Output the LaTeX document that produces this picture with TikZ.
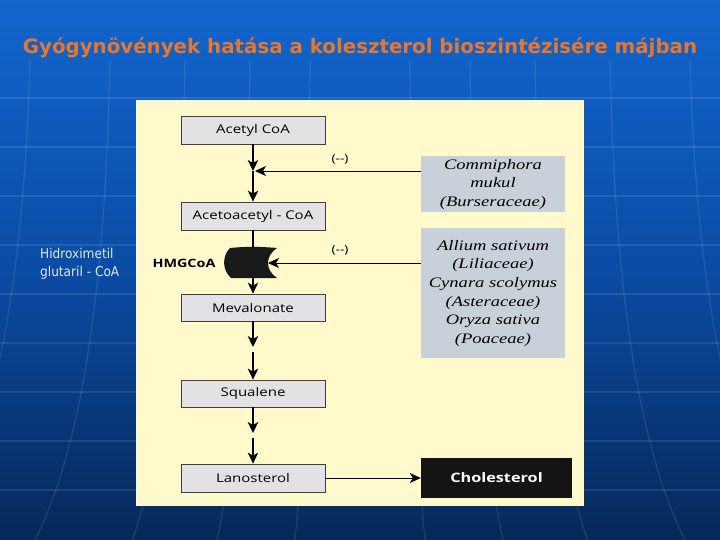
\documentclass[tikz,border=0pt]{standalone}
\usepackage{fontspec}
\usetikzlibrary{arrows.meta,calc}
\newfontfamily\boxfont{Open Sans}
\newfontfamily\plantfont{Liberation Serif}
\newfontfamily\titlefont{DejaVu Sans}
\newfontfamily\sidefont{DejaVu Sans Condensed}
\newcommand\wx[1]{\scalebox{1.25}[1]{#1}}
\newcommand\wplant[1]{\scalebox{1.28}[1]{\begin{tabular}{@{}c@{}}#1\end{tabular}}}
\definecolor{bgtop}{RGB}{18,102,206}
\definecolor{bgmid}{RGB}{10,76,164}
\definecolor{bgbot}{RGB}{6,40,88}
\definecolor{panel}{RGB}{255,249,204}
\definecolor{boxgray}{RGB}{226,226,228}
\definecolor{plantgray}{RGB}{200,209,218}
\definecolor{titleor}{RGB}{232,118,44}
\definecolor{sidetext}{RGB}{225,232,240}
\begin{document}
\begin{tikzpicture}[x=1pt,y=-1pt,
  stepbox/.style={draw=black!75, line width=0.8pt, fill=boxgray, minimum width=144pt, minimum height=28pt, inner sep=0pt, font=\boxfont\fontsize{12}{14}\selectfont},
  plantbox/.style={fill=plantgray, minimum width=144pt, inner sep=0pt, align=center, font=\plantfont\itshape\fontsize{14.5}{18.6}\selectfont},
  arr/.style={line width=1.2pt, -{Stealth[length=11pt,width=10.5pt,inset=3pt]}},
  inh/.style={line width=0.9pt, -{Stealth[length=11pt,width=10pt,inset=3pt]}},
  minus/.style={font=\boxfont\fontsize{11}{13}\selectfont},
  gridline/.style={white, opacity=0.10, line width=1.2pt}]
\useasboundingbox (0,0) rectangle (720,540);
% background
\shade[top color=bgtop, bottom color=bgbot, middle color=bgmid] (0,0) rectangle (720,540);
\foreach \yy in {98,147,196,245,294,343,392,441,490} {
  \draw[gridline] (0,\yy) -- (720,\yy);
}
\foreach \d in {-330,-250,-175,-110,-50,50,110,175,250,330} {
  \draw[gridline] (360+\d,60) .. controls (360+\d*1.02,300) and (360+\d*1.12,450) .. (360+\d*1.3,540);
}
% title
\node[text=titleor, font=\titlefont\bfseries\fontsize{19.8}{22}\selectfont] (title) at (360,48) {Gyógynövények hatása a koleszterol bioszintézisére májban};
% side text
\node[anchor=north west, align=left, text=sidetext, inner sep=0pt, font=\sidefont\fontsize{13.5}{18}\selectfont] (side) at (40,248) {Hidroximetil\\glutaril - CoA};
% panel
\fill[panel] (136,100) rectangle (584,506);
% boxes
\node[stepbox] (acetyl) at (253,130) {\wx{Acetyl CoA}};
\node[stepbox] (acetoacetyl) at (253,216) {\wx{Acetoacetyl - CoA}};
\node[stepbox, minimum height=27pt] (mevalonate) at (253,307.5) {\wx{Mevalonate}};
\node[stepbox, minimum height=27pt] (squalene) at (253,393.5) {\wx{Squalene}};
\node[stepbox] (lanosterol) at (253,478) {\wx{Lanosterol}};
\node[fill=black!92, text=white, minimum width=151pt, minimum height=40pt, inner sep=0pt, font=\boxfont\bfseries\fontsize{13}{16}\selectfont] (cholesterol) at (496.5,478) {\wx{Cholesterol}};
\node[plantbox, minimum height=56.5pt] (commiphora) at (493,184.2) {\wplant{Commiphora\\mukul\\(Burseraceae)}};
\node[plantbox, minimum height=130pt] (allium) at (493,293) {\wplant{Allium sativum\\(Liliaceae)\\Cynara scolymus\\(Asteraceae)\\Oryza sativa\\(Poaceae)}};
% HMGCoA enzyme shape
\coordinate (hmg) at (253,263);
\coordinate (hmgtop) at (253,248);
\coordinate (hmgbot) at (253,278);
\coordinate (hmgright) at (268,263);
\fill[black!90] (230,248) .. controls (250,246) and (265,247) .. (277,248)
  .. controls (265,256) and (265,270) .. (277,278)
  -- (231,278) .. controls (222,270) and (222,256) .. (230,248) -- cycle;
\node[font=\boxfont\bfseries\fontsize{11.5}{13}\selectfont] (hmglabel) at (184,263) {\wx{HMGCoA}};
% connectors
\coordinate (j1) at (253,171);
\coordinate (j1r) at (255,171);
\coordinate (m1) at (253,347);
\coordinate (m2) at (253,352);
\coordinate (s1) at (253,433);
\coordinate (s2) at (253,438);
\draw[arr] (acetyl.south) -- (j1);
\draw[arr] (j1) -- (acetoacetyl.north);
\draw[inh] (commiphora.west |- j1) -- (j1r);
\draw[line width=1.2pt] (acetoacetyl.south) -- (hmgtop);
\draw[inh] (allium.west |- hmg) -- (hmgright);
\draw[arr] (hmgbot) -- (mevalonate.north);
\draw[arr] (mevalonate.south) -- (m1);
\draw[arr] (m2) -- (squalene.north);
\draw[arr] (squalene.south) -- (s1);
\draw[arr] (s2) -- (lanosterol.north);
\draw[inh] (lanosterol.east) -- (cholesterol.west);
% minus labels
\node[minus] (minus1) at (340,159) {\wx{(--)}};
\node[minus] (minus2) at (340,250) {\wx{(--)}};
\end{tikzpicture}
\end{document}
